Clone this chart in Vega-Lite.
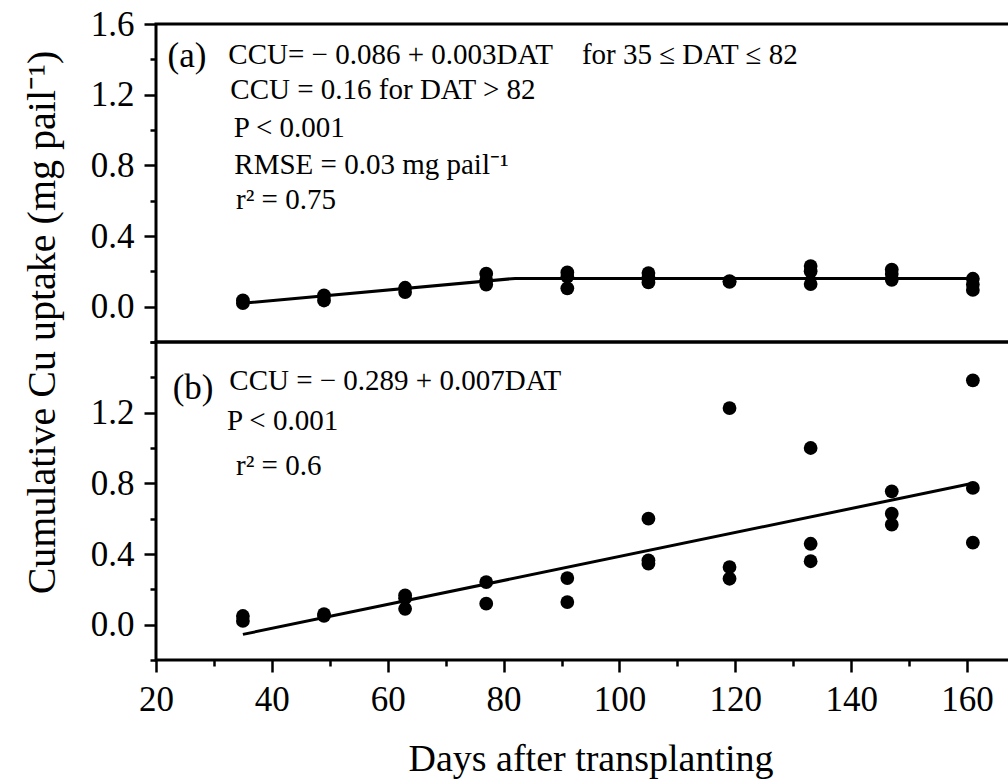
{
  "$schema": "https://vega.github.io/schema/vega-lite/v6.json",
  "padding": {"left": 20, "top": 5, "right": 0, "bottom": 0},
  "config": {
    "font": "Liberation Serif",
    "view": {"stroke": "black", "strokeWidth": 3},
    "axis": {
      "labelFont": "Liberation Serif", "titleFont": "Liberation Serif",
      "labelColor": "black", "titleColor": "black", "tickColor": "black",
      "tickWidth": 2.5, "domain": false, "grid": false, "titleFontWeight": "normal",
      "labelFlush": false, "labelOverlap": false, "labelBound": false
    },
    "text": {"font": "Liberation Serif", "color": "black"}
  },
  "datasets": {
    "cuA": [
      {"DAT": 35, "CCU": 0.035}, {"DAT": 35, "CCU": 0.02},
      {"DAT": 49, "CCU": 0.064}, {"DAT": 49, "CCU": 0.035},
      {"DAT": 63, "CCU": 0.107}, {"DAT": 63, "CCU": 0.083},
      {"DAT": 77, "CCU": 0.187}, {"DAT": 77, "CCU": 0.15}, {"DAT": 77, "CCU": 0.125},
      {"DAT": 91, "CCU": 0.194}, {"DAT": 91, "CCU": 0.17}, {"DAT": 91, "CCU": 0.104},
      {"DAT": 105, "CCU": 0.19}, {"DAT": 105, "CCU": 0.165}, {"DAT": 105, "CCU": 0.137},
      {"DAT": 119, "CCU": 0.144}, {"DAT": 119, "CCU": 0.14},
      {"DAT": 133, "CCU": 0.23}, {"DAT": 133, "CCU": 0.2}, {"DAT": 133, "CCU": 0.128},
      {"DAT": 147, "CCU": 0.21}, {"DAT": 147, "CCU": 0.185}, {"DAT": 147, "CCU": 0.152},
      {"DAT": 161, "CCU": 0.158}, {"DAT": 161, "CCU": 0.125}, {"DAT": 161, "CCU": 0.095}
    ],
    "fitA": [
      {"DAT": 35, "CCU": 0.019}, {"DAT": 82, "CCU": 0.16}, {"DAT": 161, "CCU": 0.16}
    ],
    "noteA": [
      {"DAT": 32.48, "CCU": 1.375, "label": "CCU= − 0.086 + 0.003DAT\u00a0\u00a0\u00a0\u00a0for 35 ≤ DAT ≤ 82"},
      {"DAT": 32.83, "CCU": 1.177, "label": "CCU = 0.16 for DAT > 82"},
      {"DAT": 33.41, "CCU": 0.96, "label": "P < 0.001"},
      {"DAT": 33.52, "CCU": 0.753, "label": "RMSE = 0.03 mg pail⁻¹"},
      {"DAT": 33.81, "CCU": 0.555, "label": "r² = 0.75"}
    ],
    "tagA": [{"DAT": 22.0, "CCU": 1.357, "label": "(a)"}],
    "cuB": [
      {"DAT": 35, "CCU": 0.049}, {"DAT": 35, "CCU": 0.021},
      {"DAT": 49, "CCU": 0.06}, {"DAT": 49, "CCU": 0.05},
      {"DAT": 63, "CCU": 0.166}, {"DAT": 63, "CCU": 0.15}, {"DAT": 63, "CCU": 0.09},
      {"DAT": 77, "CCU": 0.241}, {"DAT": 77, "CCU": 0.119},
      {"DAT": 91, "CCU": 0.264}, {"DAT": 91, "CCU": 0.128},
      {"DAT": 105, "CCU": 0.6}, {"DAT": 105, "CCU": 0.364}, {"DAT": 105, "CCU": 0.345},
      {"DAT": 119, "CCU": 1.226}, {"DAT": 119, "CCU": 0.326}, {"DAT": 119, "CCU": 0.26},
      {"DAT": 133, "CCU": 1.0}, {"DAT": 133, "CCU": 0.458}, {"DAT": 133, "CCU": 0.359},
      {"DAT": 147, "CCU": 0.755}, {"DAT": 147, "CCU": 0.628}, {"DAT": 147, "CCU": 0.566},
      {"DAT": 161, "CCU": 1.383}, {"DAT": 161, "CCU": 0.774}, {"DAT": 161, "CCU": 0.464}
    ],
    "fitB": [
      {"DAT": 35, "CCU": -0.055}, {"DAT": 161, "CCU": 0.8}
    ],
    "noteB": [
      {"DAT": 32.65, "CCU": 1.327, "label": "CCU = − 0.289 + 0.007DAT"},
      {"DAT": 32.26, "CCU": 1.104, "label": "P < 0.001"},
      {"DAT": 33.81, "CCU": 0.845, "label": "r² = 0.6"}
    ],
    "tagB": [{"DAT": 22.88, "CCU": 1.279, "label": "(b)"}]
  },
  "spacing": 0,
  "bounds": "flush",
  "vconcat": [
    {
      "width": 869,
      "height": 318,
      "encoding": {
        "x": {"field": "DAT", "type": "quantitative", "scale": {"domain": [20, 170], "nice": false, "zero": false}, "axis": null},
        "y": {
          "field": "CCU", "type": "quantitative",
          "scale": {"domain": [-0.2, 1.6], "nice": false, "zero": false},
          "axis": {
            "values": [-0.2, 0, 0.2, 0.4, 0.6, 0.8, 1, 1.2, 1.4, 1.6],
            "labelExpr": "abs(round(datum.value*10)) % 4 == 0 ? format(datum.value, '.1f') : ''",
            "tickSize": {"condition": {"test": "abs(round(datum.value*10)) % 4 == 0", "value": 12}, "value": 6},
            "labelFontSize": 35, "labelPadding": 10,
            "title": "Cumulative Cu uptake (mg pail⁻¹)", "titleFontSize": 40,
            "titleAngle": -90, "titleAlign": "center", "titleBaseline": "alphabetic",
            "titleX": -102, "titleY": 298
          }
        }
      },
      "layer": [
        {"data": {"name": "fitA"}, "mark": {"type": "line", "color": "black", "strokeWidth": 3}, "encoding": {}},
        {"data": {"name": "cuA"}, "mark": {"type": "circle", "size": 190, "color": "black", "opacity": 1}},
        {"data": {"name": "noteA"}, "mark": {"type": "text", "align": "left", "baseline": "alphabetic", "fontSize": 29}, "encoding": {"text": {"field": "label"}}},
        {"data": {"name": "tagA"}, "mark": {"type": "text", "align": "left", "baseline": "alphabetic", "fontSize": 35}, "encoding": {"text": {"field": "label"}}}
      ]
    },
    {
      "width": 869,
      "height": 318,
      "encoding": {
        "x": {
          "field": "DAT", "type": "quantitative",
          "scale": {"domain": [20, 170], "nice": false, "zero": false},
          "axis": {
            "values": [20, 30, 40, 50, 60, 70, 80, 90, 100, 110, 120, 130, 140, 150, 160, 170],
            "labelExpr": "datum.value % 20 == 0 ? datum.label : ''",
            "tickSize": {"condition": {"test": "datum.value % 20 == 0", "value": 12}, "value": 6},
            "labelFontSize": 35, "labelPadding": 10, "labelBaseline": "top",
            "title": "Days after transplanting", "titleFontSize": 38, "titlePadding": 23
          }
        },
        "y": {
          "field": "CCU", "type": "quantitative",
          "scale": {"domain": [-0.2, 1.6], "nice": false, "zero": false},
          "axis": {
            "values": [-0.2, 0, 0.2, 0.4, 0.6, 0.8, 1, 1.2, 1.4, 1.6],
            "labelExpr": "datum.value < 1.5 && abs(round(datum.value*10)) % 4 == 0 ? format(datum.value, '.1f') : ''",
            "tickSize": {"condition": {"test": "datum.value < 1.5 && abs(round(datum.value*10)) % 4 == 0", "value": 12}, "value": 6},
            "labelFontSize": 35, "labelPadding": 10,
            "title": null
          }
        }
      },
      "layer": [
        {"data": {"name": "fitB"}, "mark": {"type": "line", "color": "black", "strokeWidth": 3}, "encoding": {}},
        {"data": {"name": "cuB"}, "mark": {"type": "circle", "size": 190, "color": "black", "opacity": 1}},
        {"data": {"name": "noteB"}, "mark": {"type": "text", "align": "left", "baseline": "alphabetic", "fontSize": 29}, "encoding": {"text": {"field": "label"}}},
        {"data": {"name": "tagB"}, "mark": {"type": "text", "align": "left", "baseline": "alphabetic", "fontSize": 35}, "encoding": {"text": {"field": "label"}}}
      ]
    }
  ]
}
